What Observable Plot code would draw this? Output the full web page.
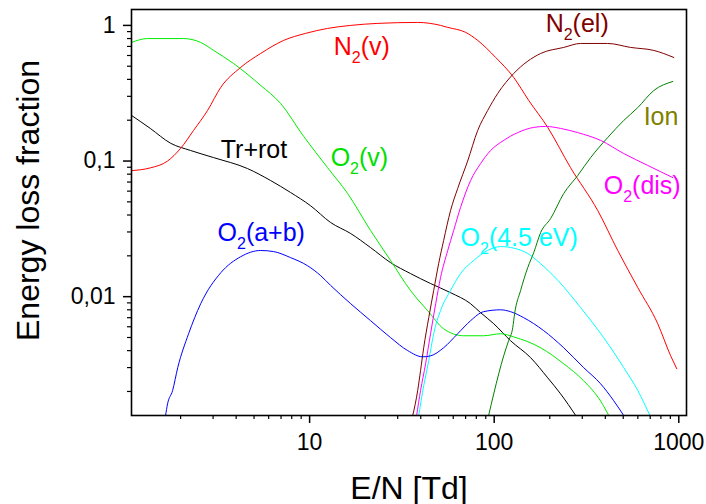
<!DOCTYPE html>
<html><head><meta charset="utf-8">
<script src="https://cdn.jsdelivr.net/npm/d3@7"></script>
<script src="https://cdn.jsdelivr.net/npm/@observablehq/plot@0.6"></script>
<style>body{margin:0;background:#fff}</style>
</head><body><div id="chart"></div>
<script>
// E/N [Td] vs energy loss fraction
const trRot = [[1.084,0.217],[1.37,0.174],[1.77,0.135],[2.265,0.1196],[3.02,0.106],[4.61,0.088],[6.15,0.0718],[7.89,0.0586],[10.1,0.0469],[13.0,0.0352],[16.7,0.0292],[21.4,0.023],[27.5,0.0178],[35.2,0.0148],[45.2,0.0125],[58,0.0107],[74.5,0.00887],[84.4,0.00762],[99.4,0.00632],[122.7,0.00473],[157.5,0.00355],[195,0.00252],[229,0.00192],[276.5,0.00133]];
const o2v = [[1.084,0.749],[1.325,0.80],[2.07,0.80],[2.57,0.749],[3.02,0.654],[3.87,0.524],[5.43,0.361],[6.96,0.266],[9.28,0.152],[12.5,0.0895],[16.07,0.0576],[21.4,0.0307],[27.5,0.0184],[35.2,0.0111],[43.6,0.00788],[53.2,0.0058],[68.3,0.00515],[87.6,0.00515],[108.3,0.00533],[127.6,0.00505],[178.5,0.0042],[238,0.0032],[305,0.0024],[377,0.0017],[417.5,0.00133]];
const n2v = [[1.084,0.085],[1.37,0.089],[1.70,0.1],[2.0,0.124],[2.35,0.168],[2.80,0.236],[3.30,0.349],[4.23,0.49],[5.43,0.621],[7.23,0.775],[9.5,0.873],[12.5,0.95],[16.7,1.0],[23.4,1.035],[38.5,1.052],[51.2,1.0],[56,0.967],[70.1,0.888],[81.4,0.775],[101.9,0.58],[127.6,0.413],[153.8,0.28],[195,0.177],[259,0.0895],[364,0.0431],[467,0.0219],[600,0.01165],[769,0.00632],[903,0.00367],[975,0.00294]];
const n2el = [[36.2,0.00133],[38.5,0.00203],[39.9,0.00285],[41.5,0.0042],[44.2,0.007],[47.0,0.0111],[50.0,0.0175],[53.2,0.0259],[58,0.0431],[63.4,0.0627],[71.8,0.1],[81.4,0.168],[92.2,0.236],[104.5,0.315],[127.6,0.442],[178.5,0.621],[238,0.688],[294,0.736],[412,0.736],[548,0.688],[732,0.654],[940,0.58]];
const o2dis = [[38.0,0.00133],[39.9,0.00203],[42.5,0.0032],[45.2,0.00533],[48.2,0.00887],[51.2,0.0138],[56,0.0219],[60.3,0.0307],[65.7,0.0454],[74.5,0.0718],[84.4,0.0958],[95.6,0.1195],[112.6,0.142],[134,0.162],[163.7,0.177],[190,0.18],[229,0.174],[283.5,0.162],[377,0.142],[503,0.1136],[679,0.0928],[928,0.0755]];
const o2_45 = [[39.0,0.00133],[41.5,0.0022],[44.2,0.00338],[47.0,0.00533],[51.2,0.0079],[58,0.0111],[65.7,0.0148],[77.5,0.0185],[92,0.0219],[108.3,0.0234],[127.6,0.0228],[152,0.0208],[178.5,0.0175],[221,0.0132],[294,0.0083],[392,0.00498],[503,0.003],[600,0.00203],[697,0.00133]];
const o2ab = [[1.658,0.00133],[1.70,0.00162],[1.81,0.00203],[1.93,0.003],[2.21,0.00533],[2.57,0.00887],[3.30,0.015],[4.23,0.0197],[5.43,0.0219],[6.38,0.0215],[7.89,0.0194],[9.75,0.0169],[11.47,0.0143],[13.0,0.0121],[16.7,0.00887],[21.4,0.00665],[27.5,0.00498],[34.0,0.004],[41.0,0.0036],[45.2,0.00366],[53.2,0.0042],[63.4,0.00533],[74.5,0.00665],[87.6,0.00775],[108.3,0.008],[122.7,0.00775],[144.5,0.007],[185,0.00563],[238,0.0042],[305,0.003],[377,0.00228],[444,0.00171],[503,0.00133]];
const ion = [[93.3,0.00133],[99.4,0.00192],[105.8,0.0027],[112.6,0.00367],[119.8,0.00475],[126,0.0059],[129,0.0075],[139,0.0111],[152,0.0164],[163.7,0.0211],[178.5,0.0297],[202,0.0376],[238,0.0576],[283.5,0.0782],[333,0.106],[412,0.149],[503,0.199],[600,0.248],[732,0.331],[928,0.386]];

const seriesData = [trRot, o2v, n2v, n2el, o2dis, o2_45, o2ab, ion];
const seriesColors = ["#000000", "#00ee00", "#ff0000", "#800000", "#ff00ff", "#00ffff", "#0000ff", "#008000"];

const labelNames = ["N2(v)", "N2(el)", "Ion", "O2(dis)", "Tr+rot", "O2(v)", "O2(a+b)", "O2(4.5 eV)"];
const labelX = [13.5, 190, 645, 392, 3.30, 13.0, 3.17, 65.7];
const labelY = [0.60, 0.888, 0.183, 0.0576, 0.106, 0.0926, 0.0259, 0.0238];
const labelColors = ["#ff0000", "#800000", "#808000", "#ff00ff", "#000000", "#00e000", "#0000ff", "#00ffff"];

const xMajor = [10, 100, 1000];
const yMajor = [0.01, 0.1, 1];
const xMinor = [1, 10, 100].flatMap(k => [2,3,4,5,6,7,8,9].map(m => m * k));
const yMinor = [0.001, 0.01, 0.1].flatMap(k => [2,3,4,5,6,7,8,9].map(m => m * k));

const labels = labelNames.map((name, i) => ({name, x: labelX[i], y: labelY[i], color: labelColors[i]}));

const plot = Plot.plot({
  width: 706, height: 504,
  marginLeft: 131, marginRight: 20, marginTop: 9, marginBottom: 89,
  style: {fontFamily: "'Liberation Sans', Arial, sans-serif", background: "white", color: "black"},
  x: {type: "log", domain: [1.084, 1101]},
  y: {type: "log", domain: [0.00133, 1.31]},
  marks: [
    ...seriesData.map((d, i) => Plot.line(d, {x: p => p[0], y: p => p[1], stroke: seriesColors[i], strokeWidth: 1, curve: "monotone-x", clip: true})),
    Plot.frame({stroke: "black", strokeWidth: 1.6}),
    Plot.axisY({ticks: yMajor, tickFormat: d => String(d).replace(".", ","), tickSize: 8, tickPadding: 8, fontSize: 23, label: null, strokeWidth: 1.5}),
    Plot.axisY({ticks: yMinor, tickFormat: () => "", tickSize: 4, label: null, strokeWidth: 1.2}),
    Plot.axisX({ticks: xMajor, tickFormat: d => String(d), tickSize: 8, tickPadding: 10, fontSize: 23, label: null, strokeWidth: 1.5}),
    Plot.axisX({ticks: xMinor, tickFormat: () => "", tickSize: 4, label: null, strokeWidth: 1.2}),
    ...labels.map(l => Plot.text([l], {x: "x", y: "y", text: "name", fill: l.color, fontSize: 25, textAnchor: "start", lineAnchor: "bottom"})),
    Plot.text(["E/N [Td]"], {frameAnchor: "bottom", textAnchor: "middle", dy: 83, fontSize: 32, lineAnchor: "bottom", fill: "black"}),
    Plot.text(["Energy loss fraction"], {frameAnchor: "left", textAnchor: "middle", lineAnchor: "middle", rotate: -90, dx: -103, dy: -12, fontSize: 32, fill: "black"})
  ]
});

// subscripts for N2 / O2 labels
d3.select(plot).selectAll("text").each(function() {
  const t = this.textContent;
  if (!labelNames.includes(t)) return;
  const m = /^([NO])2(\(.*)$/.exec(t);
  if (!m) return;
  const sel = d3.select(this);
  sel.text(null);
  sel.append("tspan").text(m[1]);
  sel.append("tspan").attr("dy", 8).attr("font-size", 16).text("2");
  sel.append("tspan").attr("dy", -8).text(m[2]);
});

document.getElementById("chart").append(plot);
</script>
</body></html>
